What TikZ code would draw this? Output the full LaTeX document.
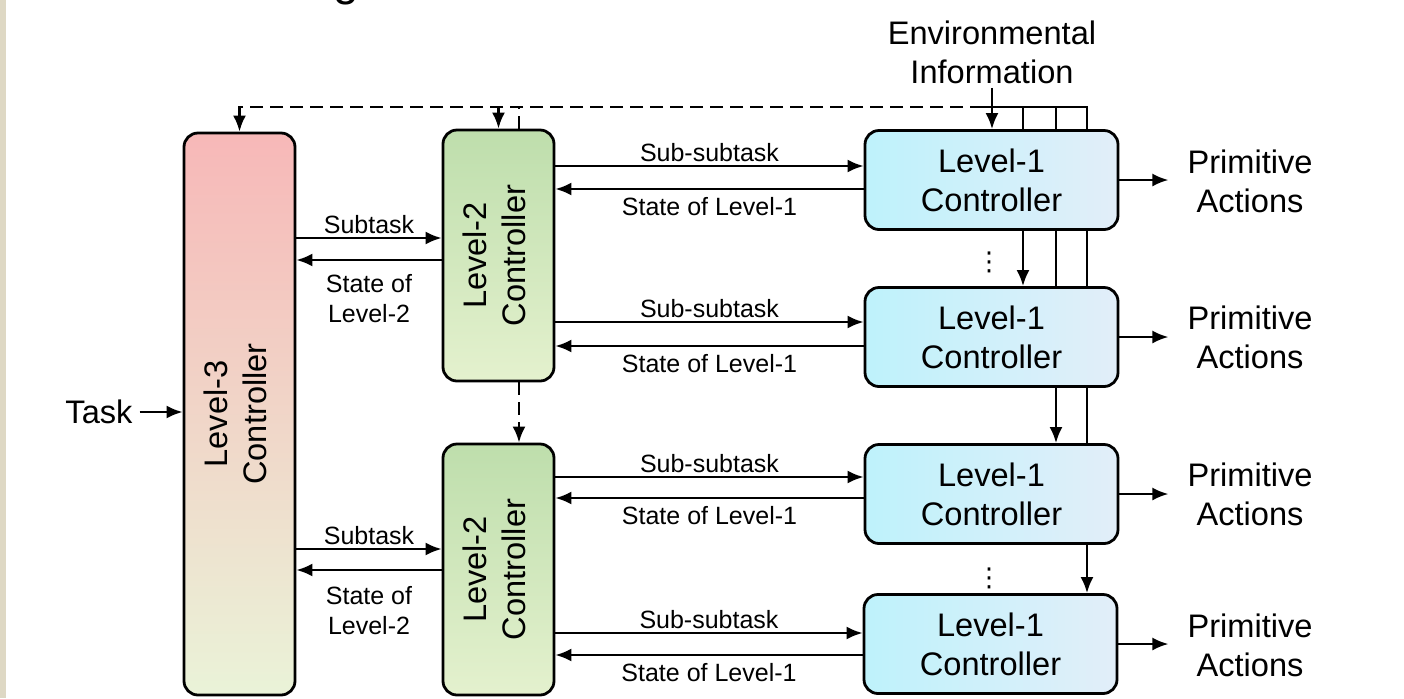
\documentclass[tikz,border=0pt]{standalone}
\usepackage{fontspec}
\setmainfont{Liberation Sans}
\newfontfamily\symfont{DejaVu Sans}
\usetikzlibrary{arrows.meta,backgrounds}
\definecolor{strip}{RGB}{222,216,196}
\definecolor{pinktop}{RGB}{247,184,184}
\definecolor{pinkbot}{RGB}{234,243,216}
\definecolor{greentop}{RGB}{190,222,172}
\definecolor{greenbot}{RGB}{228,241,206}
\definecolor{cyanleft}{RGB}{190,242,251}
\definecolor{blueright}{RGB}{226,238,249}
\newcommand{\biglabel}{\fontsize{16.3}{19.5}\selectfont}
\newcommand{\smalllabel}{\fontsize{12.5}{15}\selectfont}
\newcommand{\vtext}[1]{\rotatebox{90}{\begin{tabular}{@{}c@{}}#1\end{tabular}}}
\newcommand{\drawlevthree}{\node[ctrl, top color=pinktop, bottom color=pinkbot, minimum width=55.5pt, minimum height=281pt]}
\newcommand{\drawlevtwo}{\node[ctrl, top color=greentop, bottom color=greenbot, minimum width=55.5pt, minimum height=125.5pt]}
\newcommand{\drawlevone}{\node[ctrl, left color=cyanleft, right color=blueright, minimum width=126.5pt, minimum height=49.5pt]}
\newcommand{\drawtext}{\node[align=center, font=\biglabel]}

\begin{document}
\begin{tikzpicture}[x=0.5pt, y=-0.5pt, >={Latex[length=8pt,width=6.5pt]},
  ctrl/.style={draw, line width=1.4pt, rounded corners=7pt, align=center, font=\biglabel, inner sep=0pt},
  link/.style={->, line width=1.2pt},
  dashlink/.style={line width=1.3pt, dash pattern=on 6.5pt off 3.5pt},
  lab/.style={font=\smalllabel, align=center, inner sep=1.5pt}]
\useasboundingbox (0,0) rectangle (1404,698);
\fill[strip] (0,0) rectangle (6,698);
\node[font=\fontsize{23}{23}\selectfont, anchor=base] (title) at (346,-5) {g};

%controllers
\drawlevthree (l3) at (239.5,414) {\vtext{Level-3\\Controller}};
\drawlevtwo (l2a) at (498.5,255.5) {\vtext{Level-2\\Controller}};
\drawlevtwo (l2b) at (498.5,569.5) {\vtext{Level-2\\Controller}};
\drawlevone (l1a) at (991.5,180) {Level-1\\Controller};
\drawlevone (l1b) at (991.5,337) {Level-1\\Controller};
\drawlevone (l1c) at (991.5,494) {Level-1\\Controller};
\drawlevone (l1d) at (990.5,644) {Level-1\\Controller};

\drawtext (task) at (99,412) {Task};
\drawtext[inner sep=2pt] (env) at (992,52) {Environmental\\Information};
\drawtext (pa1) at (1250,181) {Primitive\\Actions};
\drawtext (pa2) at (1250,337) {Primitive\\Actions};
\drawtext (pa3) at (1250,494) {Primitive\\Actions};
\drawtext (pa4) at (1250,645) {Primitive\\Actions};
\node[font=\symfont\fontsize{13}{13}\selectfont, inner sep=0pt] (dots1) at (989,262) {⋮};
\node[font=\symfont\fontsize{13}{13}\selectfont, inner sep=0pt] (dots2) at (989,578) {⋮};

\coordinate (bus) at (983,107);
\coordinate (tap1) at (1023,107);
\coordinate (tap2) at (1056,107);
\coordinate (tap3) at (1087,107);

%task and level-3 to level-2
\draw[link] (task.east) -- (task.east -| l3.west);
\draw[link] ([yshift=8.75pt]l2a.west -| l3.east) -- ([yshift=8.75pt]l2a.west) node[lab, midway, above] {Subtask};
\draw[link] ([yshift=-2.25pt]l2a.west) -- ([yshift=-2.25pt]l2a.west -| l3.east) node[lab, midway, below=5pt] {State of\\Level-2};
\draw[link] ([yshift=10.25pt]l2b.west -| l3.east) -- ([yshift=10.25pt]l2b.west) node[lab, midway, above] {Subtask};
\draw[link] ([yshift=-0.25pt]l2b.west) -- ([yshift=-0.25pt]l2b.west -| l3.east) node[lab, midway, below=6pt] {State of\\Level-2};

%level-2 to level-1
\draw[link] ([yshift=7pt]l1a.west -| l2a.east) -- ([yshift=7pt]l1a.west) node[lab, midway, above] {Sub-subtask};
\draw[link] ([yshift=-4.5pt]l1a.west) -- ([yshift=-4.5pt]l1a.west -| l2a.east) node[lab, midway, below=2pt] {State of Level-1};
\draw[link] ([yshift=7.5pt]l1b.west -| l2a.east) -- ([yshift=7.5pt]l1b.west) node[lab, midway, above] {Sub-subtask};
\draw[link] ([yshift=-4.5pt]l1b.west) -- ([yshift=-4.5pt]l1b.west -| l2a.east) node[lab, midway, below=2pt] {State of Level-1};
\draw[link] ([yshift=8.5pt]l1c.west -| l2b.east) -- ([yshift=8.5pt]l1c.west) node[lab, midway, above] {Sub-subtask};
\draw[link] ([yshift=-2pt]l1c.west) -- ([yshift=-2pt]l1c.west -| l2b.east) node[lab, midway, below=2pt] {State of Level-1};
\draw[link] ([yshift=5.5pt]l1d.west -| l2b.east) -- ([yshift=5.5pt]l1d.west) node[lab, midway, above] {Sub-subtask};
\draw[link] ([yshift=-5.5pt]l1d.west) -- ([yshift=-5.5pt]l1d.west -| l2b.east) node[lab, midway, below=2pt] {State of Level-1};

%level-1 outputs
\draw[link, shorten >=6pt] (l1a.east) -- (l1a.east -| pa1.west);
\draw[link, shorten >=6pt] (l1b.east) -- (l1b.east -| pa2.west);
\draw[link, shorten >=6pt] (l1c.east) -- (l1c.east -| pa3.west);
\draw[link, shorten >=6pt] (l1d.east) -- (l1d.east -| pa4.west);
\draw[link] (env.south) -- (env.south |- l1a.north);

%feedback lines
\draw[dashlink, ->] (bus) -| (l3.north);
\draw[dashlink, ->] (l2a.north |- bus) -- (l2a.north);
\draw[dashlink] ([xshift=10.25pt]l2a.north) -- ([xshift=10.25pt]l2a.north |- bus);
\draw[dashlink, ->] ([xshift=10.25pt]l2a.south) -- ([xshift=10.25pt]l2b.north);
\begin{pgfonlayer}{background}
\draw[link] (bus) -- (tap3) -- (tap3 |- l1d.north);
\draw[link] (tap1) -- (tap1 |- l1b.north);
\draw[link] (tap2) -- (tap2 |- l1c.north);
\end{pgfonlayer}
\end{tikzpicture}
\end{document}
